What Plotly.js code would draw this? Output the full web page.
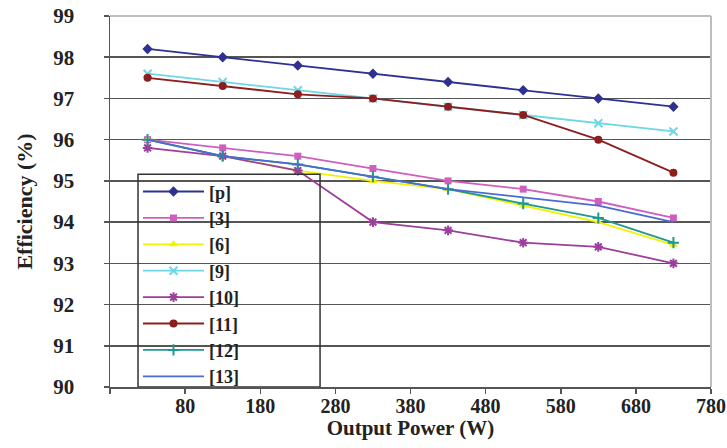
<!DOCTYPE html>
<html>
<head>
<meta charset="utf-8">
<script src="https://cdn.plot.ly/plotly-3.0.1.min.js"></script>
<style>html,body{margin:0;padding:0;background:#fff;}#chart{width:727px;height:448px;}</style>
</head>
<body>
<div id="chart"></div>
<script>
// Output power (W)
var power = [30, 130, 230, 330, 430, 530, 630, 730];
// Efficiency (%) per reference
var effP  = [98.2, 98.0, 97.8, 97.6, 97.4, 97.2, 97.0, 96.8];
var eff3  = [96.0, 95.8, 95.6, 95.3, 95.0, 94.8, 94.5, 94.1];
var eff6  = [96.0, 95.6, 95.25, 95.0, 94.8, 94.4, 94.0, 93.45];
var eff9  = [97.6, 97.4, 97.2, 97.0, 96.8, 96.6, 96.4, 96.2];
var eff10 = [95.8, 95.6, 95.25, 94.0, 93.8, 93.5, 93.4, 93.0];
var eff11 = [97.5, 97.3, 97.1, 97.0, 96.8, 96.6, 96.0, 95.2];
var eff12 = [96.0, 95.6, 95.4, 95.1, 94.8, 94.45, 94.1, 93.5];
var eff13 = [96.0, 95.6, 95.4, 95.1, 94.8, 94.6, 94.4, 94.0];
var names = ['[p]', '[3]', '[6]', '[9]', '[10]', '[11]', '[12]', '[13]'];
// Axis ticks
var xTickVals = [-20, 80, 180, 280, 380, 480, 580, 680, 780];
var xTickText = ['', '80', '180', '280', '380', '480', '580', '680', '780'];
var yTickVals = [90, 91, 92, 93, 94, 95, 96, 97, 98, 99];

var series = [effP, eff3, eff6, eff9, eff10, eff11, eff12, eff13];
var colors = ['#2d3191', '#cf5fbf', '#f2f200', '#6fd6e6', '#9c3f9c', '#8e1d1d', '#1d9893', '#4b6bd2'];
var symbols = ['diamond', 'square', 'triangle-up', 'x-thin-open', 'asterisk-open', 'circle', 'cross-thin-open', 'circle'];
var msizes = [8, 7, 8, 8, 8, 8, 8, 0];

var FONT = 'Liberation Serif, Times New Roman, serif';
var traces = series.map(function (ys, i) {
  var open = symbols[i].indexOf('open') >= 0;
  return {
    x: power, y: ys, name: names[i], type: 'scatter', mode: msizes[i] ? 'lines+markers' : 'lines',
    legendgroup: 'g' + i,
    line: {color: colors[i], width: 1.8},
    marker: {symbol: symbols[i], size: msizes[i], color: colors[i],
             line: {color: colors[i], width: open ? 2 : 0}}
  };
});

var layout = {
  width: 727, height: 448,
  margin: {l: 110, r: 16, t: 16, b: 61},
  paper_bgcolor: '#fff', plot_bgcolor: '#fff',
  font: {family: FONT, size: 21, color: '#222', weight: 'bold'},
  showlegend: true,
  legend: {
    x: 0.0466, y: 0.576, xanchor: 'left', yanchor: 'top',
    bgcolor: 'rgba(0,0,0,0)', borderwidth: 0,
    font: {family: FONT, size: 18, color: '#222', weight: 'bold'},
    itemwidth: 61, tracegroupgap: 0, traceorder: 'normal'
  },
  xaxis: {
    range: [-20, 780], tickmode: 'array', tickvals: xTickVals, ticktext: xTickText,
    showgrid: false, zeroline: false, showline: true, linecolor: '#555', linewidth: 1.5,
    ticks: 'outside', ticklen: 5, tickcolor: '#555', tickwidth: 1.5,
    tickfont: {family: FONT, size: 20, color: '#222', weight: 'bold'},
    ticklabelstandoff: -5,
    title: {text: 'Output Power (W)', font: {family: FONT, size: 21, color: '#222', weight: 'bold'}, standoff: 2}
  },
  yaxis: {
    range: [90, 99], tickmode: 'array', tickvals: yTickVals,
    showgrid: true, gridcolor: '#555', gridwidth: 1.5, zeroline: false,
    showline: true, linecolor: '#555', linewidth: 1.5,
    ticks: 'outside', ticklen: 5, tickcolor: '#555', tickwidth: 1.5,
    tickfont: {family: FONT, size: 21, color: '#222', weight: 'bold'},
    ticklabelstandoff: 25,
    title: {text: 'Efficiency (%)', font: {family: FONT, size: 22, color: '#222', weight: 'bold'}, standoff: 14}
  },
  shapes: [
    {type: 'line', xref: 'paper', yref: 'paper', x0: 0, x1: 1, y0: 1, y1: 1, line: {color: '#bdbdbd', width: 2}, layer: 'above'},
    {type: 'line', xref: 'paper', yref: 'paper', x0: 1, x1: 1, y0: 0, y1: 1, line: {color: '#bdbdbd', width: 2}, layer: 'above'},
    {type: 'rect', xref: 'x', yref: 'y', x0: 17.3, x1: 259.6, y0: 90, y1: 95.16, line: {color: '#333', width: 1.5}, fillcolor: 'rgba(0,0,0,0)', layer: 'above'}
  ]
};

Plotly.newPlot('chart', traces, layout, {displayModeBar: false, staticPlot: true});
</script>
</body>
</html>
